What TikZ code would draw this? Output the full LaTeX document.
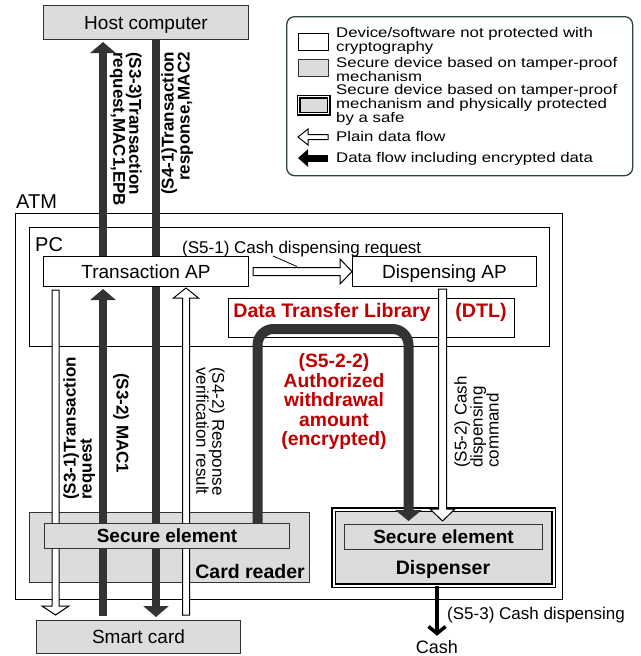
\documentclass[tikz,border=0pt]{standalone}
\usepackage{fontspec}
\usepackage{graphicx}
\setmainfont{Liberation Sans}
\usetikzlibrary{arrows.meta,calc}
\pgfdeclarelayer{background}
\pgfdeclarelayer{arrowlayer}
\pgfsetlayers{background,arrowlayer,main}
\definecolor{boxgray}{HTML}{DCDCDC}
\definecolor{darkbar}{HTML}{333333}
\definecolor{dtlred}{HTML}{C00000}
\definecolor{legline}{HTML}{2F4040}
\newcommand\fsz[2]{\fontsize{#1}{#2}\selectfont}
\newcommand\wideline[1]{\scalebox{1.2}[1]{#1}}
\newcommand\hollowarrow[5]{%
  \coordinate (ha-h) at ($(#2)!#5!(#1)$);
  \draw[hollowline] ($(#1)!#3!90:(#2)$) -- ($(ha-h)!#3!90:(#2)$) -- ($(ha-h)!#4!90:(#2)$) -- (#2) -- ($(ha-h)!#4!-90:(#2)$) -- ($(ha-h)!#3!-90:(#2)$) -- ($(#1)!#3!-90:(#2)$) -- cycle;}
\begin{document}
\begin{tikzpicture}[x=1pt,y=-1pt,
  box/.style={draw=black, line width=1pt, inner sep=0pt, anchor=north west, text height=13.5pt, text depth=0pt, font=\fsz{19}{22}},
  gbox/.style={box, fill=boxgray, draw=black!80},
  wbox/.style={box, fill=white},
  hollowline/.style={draw=black, fill=white, line width=1pt, line join=miter},
  blackarrow/.style={draw=darkbar, line width=8pt, -{Triangle[width=25pt,length=11pt]}},
  lab/.style={inner sep=0pt, font=\fsz{17}{16}},
  blab/.style={inner sep=0pt, font=\fsz{17}{16}\bfseries},
  legtxt/.style={inner sep=0pt, font=\fsz{14}{12.5}, align=left},
  icon/.style={draw=black, line width=1.2pt, minimum width=30pt, minimum height=17pt, inner sep=0pt, anchor=north west}
]
\useasboundingbox (0,0) rectangle (640,656);

% ---------- background frames and devices
\begin{pgfonlayer}{background}
\node[box, minimum width=547pt, minimum height=386pt] (atm) at (15,213) {};
\node[box, minimum width=520pt, minimum height=119pt] (pc) at (29,227) {};
\node[gbox, minimum width=205pt, minimum height=34pt] (host) at (43,5) {Host computer};
\node[gbox, minimum width=280pt, minimum height=70pt] (cr) at (29,512) {};
\node[gbox, minimum width=204pt, minimum height=33pt] (smart) at (36,620) {Smart card};
\node[wbox, minimum width=286pt, minimum height=39pt] (dtl) at (228,298) {};
\node[box, fill=boxgray, double=white, double distance=2pt, line width=1.3pt, minimum width=220pt, minimum height=76pt] (disp) at (333,509) {};
\end{pgfonlayer}

% ---------- boxes on top of the flows
\node[wbox, minimum width=205pt, minimum height=30pt] (tap) at (43,256) {Transaction AP};
\node[wbox, minimum width=184pt, minimum height=30pt] (dap) at (352,256) {Dispensing AP};
\node[gbox, font=\fsz{19}{22}\bfseries, minimum width=245pt, minimum height=25pt] (se1) at (44,523) {Secure element};
\node[gbox, font=\fsz{19}{22}\bfseries, minimum width=198pt, minimum height=25pt] (se2) at (344,524) {Secure element};

% ---------- texts
\node[anchor=base west, inner sep=0pt, font=\fsz{20}{20}] (atmlab) at (16,208) {ATM};
\node[anchor=base west, inner sep=0pt, font=\fsz{20}{20}] (pclab) at (35,251) {PC};
\node[anchor=base west, inner sep=0pt, font=\fsz{17}{17}] (s51lab) at (182,253) {(S5-1) Cash dispensing request};
\node[anchor=base, inner sep=0pt, font=\fsz{19.6}{19}\bfseries, text=dtlred] (dtl1) at (332,317) {Data Transfer Library};
\node[anchor=base, inner sep=0pt, font=\fsz{19.6}{19}\bfseries, text=dtlred] (dtl2) at (481,317) {(DTL)};
\node[anchor=base east, inner sep=0pt, font=\fsz{19.5}{20}\bfseries] (crlab) at (305,578) {Card reader};
\node[anchor=base, inner sep=0pt, font=\fsz{19.5}{20}\bfseries] (displab) at (443,574) {Dispenser};
\node[anchor=base, inner sep=0pt, font=\fsz{18}{18}] (cash) at (437,653) {Cash};
\node[anchor=base west, inner sep=0pt, font=\fsz{17}{17}] (s53lab) at (447,619) {(S5-3) Cash dispensing};
\node[font=\fsz{19.3}{19.5}\bfseries, text=dtlred, align=center, inner sep=0pt] (red) at (334,402) {(S5-2-2)\\Authorized\\withdrawal\\amount\\(encrypted)};

\node[blab, rotate=-90, anchor=north west, align=left] (l33) at (142,52) {(S3-3)Transaction\\request,MAC1,EPB};
\node[blab, rotate=90, anchor=north east, align=right] (l41) at (161,52) {(S4-1)Transaction\\response,MAC2};
\node[blab, rotate=90, anchor=north west, align=left] (l31) at (63,500) {(S3-1)Transaction\\request};
\node[blab, rotate=-90, anchor=west] (l32) at (121,373) {(S3-2) MAC1};
\node[lab, rotate=-90, anchor=north west, align=left] (l42) at (225,367) {(S4-2) Response\\verification result};
\node[lab, rotate=90, anchor=north west, align=left] (l52) at (454,468) {(S5-2) Cash\\dispensing\\command};

% ---------- legend
\node[draw=legline, line width=1.3pt, rounded corners=8pt, minimum width=346pt, minimum height=159pt, anchor=north west, inner sep=0pt] (leg) at (286,16) {};
\node[icon, fill=white] (i1) at (298,33) {};
\node[icon, fill=boxgray, draw=black!80] (i2) at (298,59) {};
\node[icon, fill=boxgray, double=white, double distance=1.5pt] (i3) at (298,96) {};
\node[legtxt, anchor=north west] (t1) at (336,27.5) {\wideline{Device/software not protected with}\\\wideline{cryptography}};
\node[legtxt, anchor=north west] (t2) at (336,57.5) {\wideline{Secure device based on tamper-proof}\\\wideline{mechanism}};
\node[legtxt, anchor=north west] (t3) at (336,84.5) {\wideline{Secure device based on tamper-proof}\\\wideline{mechanism and physically protected}\\\wideline{by a safe}};
\node[legtxt, anchor=base west] (t4) at (336,141) {\wideline{Plain data flow}};
\node[legtxt, anchor=base west] (t5) at (336,162) {\wideline{Data flow including encrypted data}};
\coordinate (i4a) at (328,137);
\coordinate (i4b) at (298,137);
\coordinate (i5a) at (328,158);
\coordinate (i5b) at (298,158);

% ---------- flows
\coordinate (k1) at (55.5,0);
\coordinate (k2) at (103,0);
\coordinate (k3) at (156,0);
\coordinate (k4) at (186,0);
\coordinate (k5) at (257.5,0);
\coordinate (k6) at (408.5,0);
\coordinate (k7) at (442.5,0);
\coordinate (k8) at (437,0);
\coordinate (s31a) at ($(k1 |- tap.south)+(0,3)$);
\coordinate (s31b) at ($(k1 |- smart.north)+(0,-5)$);
\coordinate (s42a) at ($(k4 |- smart.north)+(0,-5)$);
\coordinate (s42b) at ($(k4 |- tap.south)+(0,1)$);
\coordinate (s52a) at ($(k7 |- dap.south)+(0,2)$);
\coordinate (s52b) at ($(k7 |- se2.north)+(0,-3)$);
\coordinate (s51a) at ($(tap.east)+(4,0)$);
\coordinate (s51b) at (dap.west);
\coordinate (ldrA) at (273,256);
\coordinate (ldrB) at (297,266.5);

\begin{pgfonlayer}{arrowlayer}
\draw[blackarrow] (k2 |- tap.north) -- ($(k2 |- host.south)+(0,2)$);
\draw[blackarrow] ($(k2 |- smart.north)+(0,-4)$) -- ($(k2 |- tap.south)+(0,2)$);
\draw[blackarrow] (k3 |- host.south) -- ($(k3 |- smart.north)+(0,-3)$);
\hollowarrow{s31a}{s31b}{3.5pt}{13.5pt}{9pt}
\hollowarrow{s42a}{s42b}{3.5pt}{12.5pt}{10pt}
\hollowarrow{s52a}{s52b}{4pt}{12.5pt}{12pt}
\hollowarrow{s51a}{s51b}{4pt}{12.5pt}{12pt}
\draw[draw=darkbar, line width=10pt, rounded corners=16pt, -{Triangle[width=26pt,length=11pt]}]
  (k5 |- se1.north) -- ($(k5 |- dtl.south)+(0,-9)$) -- ($(k6 |- dtl.south)+(0,-9)$) -- ($(k6 |- se2.north)+(0,-3)$);
\draw[line width=3.5pt, -{Straight Barb[length=7pt,width=17pt]}] (k8 |- disp.south) -- ($(cash.north)+(0,-4)$);
\draw[line width=0.8pt] (ldrA) -- (ldrB);
\end{pgfonlayer}

% legend arrows
\hollowarrow{i4a}{i4b}{2.5pt}{8pt}{10pt}
\draw[draw=black, line width=7pt, -{Triangle[width=17pt,length=10pt]}] (i5a) -- (i5b);
\end{tikzpicture}
\end{document}
